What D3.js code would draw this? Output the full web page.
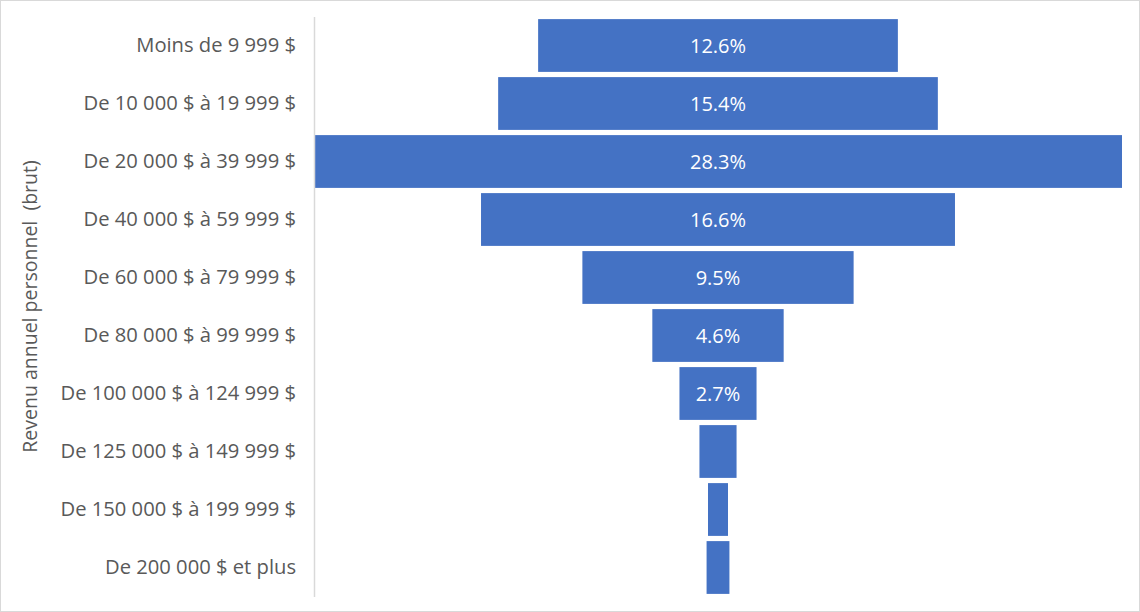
<!DOCTYPE html>
<html><head><meta charset="utf-8">
<script src="https://cdn.jsdelivr.net/npm/d3@7"></script>
<style>
html,body{margin:0;padding:0;background:#fff;}
svg{display:block;font-family:"Open Sans",sans-serif;}
</style></head><body>
<script>
const categories = ["Moins de 9 999 $","De 10 000 $ à 19 999 $","De 20 000 $ à 39 999 $","De 40 000 $ à 59 999 $","De 60 000 $ à 79 999 $","De 80 000 $ à 99 999 $","De 100 000 $ à 124 999 $","De 125 000 $ à 149 999 $","De 150 000 $ à 199 999 $","De 200 000 $ et plus"];
const values = [12.6,15.4,28.3,16.6,9.5,4.6,2.7,1.3,0.7,0.8];
const showLabel = [true,true,true,true,true,true,true,false,false,false];
const axisTitle = "Revenu annuel personnel  (brut)";

(function(){
const W=1140,H=612;
const svg=d3.select("body").append("svg").attr("width",W).attr("height",H);
svg.append("rect").attr("x",0.5).attr("y",0.5).attr("width",W-1).attr("height",H-1).attr("fill","#fff").attr("stroke","#d9d9d9");

const pl=314,pr=1122,pt=16.5,pb=596.5;
const y=d3.scaleBand().domain(categories).range([pt,pb]).paddingInner(0.09).paddingOuter(0.045);
const maxV=d3.max(values);
const w=d3.scaleLinear().domain([0,maxV]).range([0,pr-pl]);
const cx=(pl+pr)/2;

svg.selectAll("rect.bar").data(values).join("rect").attr("class","bar")
 .attr("x",d=>cx-w(d)/2).attr("width",d=>w(d))
 .attr("y",(d,i)=>y(categories[i])).attr("height",y.bandwidth())
 .attr("fill","#4472C4");

svg.selectAll("text.val").data(values.map((v,i)=>({v,i})).filter(d=>showLabel[d.i])).join("text").attr("class","val")
 .attr("x",cx).attr("y",d=>y(categories[d.i])+y.bandwidth()/2)
 .attr("dy","0.35em").attr("text-anchor","middle")
 .attr("fill","#fff").attr("font-size",20).text(d=>d.v.toFixed(1)+"%");

const ax=svg.append("g").attr("transform",`translate(${pl},0)`)
 .call(d3.axisLeft(y).tickSize(0).tickPadding(18));
ax.select(".domain").attr("stroke","#d9d9d9").attr("stroke-width",1.5);
ax.selectAll("text").attr("font-size",20.2).attr("fill","#595959").attr("font-family","'Open Sans',sans-serif");

svg.append("text").attr("transform",`translate(37,${(pt+pb)/2}) rotate(-90)`)
 .attr("text-anchor","middle").attr("font-size",19.5).attr("fill","#595959")
 .style("white-space","pre").text(axisTitle);
})();
</script></body></html>
